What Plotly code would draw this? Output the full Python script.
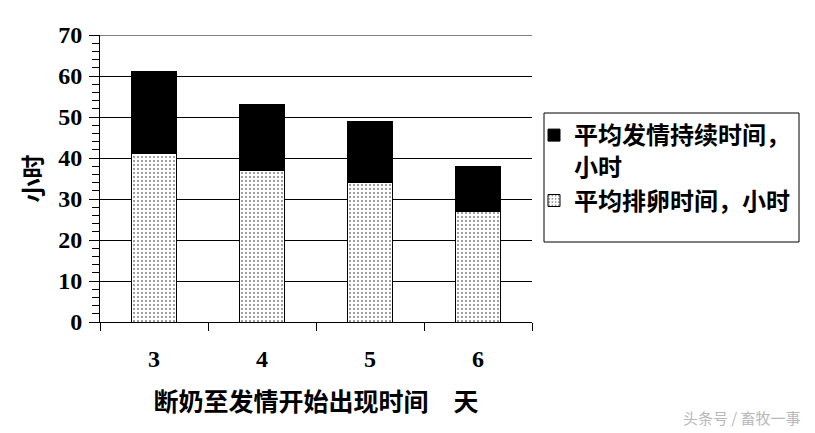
import plotly.graph_objects as go

categories = ["3", "4", "5", "6"]
ovulation_hours = [41, 37, 34, 27]        # 平均排卵时间，小时 (dotted, bottom)
estrus_extra_hours = [20, 16, 15, 11]     # 平均发情持续时间，小时 (black, stacked on top)

name_estrus = "平均发情持续时间，<br>小时"
name_ovul = "平均排卵时间，小时"

FONT = "Liberation Serif, Noto Sans CJK SC, serif"
CJK = "Noto Sans CJK SC, sans-serif"

# the page body has an 8px margin, so the figure sits at (8, 8)
OFF = 8
W, H = 815 - OFF, 433 - OFF

fig = go.Figure()
fig.add_trace(go.Bar(
    x=categories, y=ovulation_hours, name=name_ovul,
    legendgroup="b", legendrank=2,
    marker=dict(color="white", line=dict(color="black", width=1),
                pattern=dict(shape=".", fgcolor="black", bgcolor="white",
                             size=4, solidity=0.2, fillmode="overlay")),
    width=0.42,
))
fig.add_trace(go.Bar(
    x=categories, y=estrus_extra_hours, name=name_estrus,
    legendgroup="a", legendrank=1,
    marker=dict(color="black", line=dict(color="black", width=1)),
    width=0.42,
))

# plot area in screenshot pixels: x 100..532, y 35..322
L = 100 - OFF
T = 35 - OFF
R = W - (532 - OFF)
B = H - (322 - OFF)
pw = W - L - R
ph = H - T - B

def px_x(x):
    return (x - OFF - L) / pw

def px_y(y):
    return (H - B - (y - OFF)) / ph

fig.update_layout(
    width=W, height=H,
    margin=dict(l=L, r=R, t=T, b=B, pad=0, autoexpand=False),
    barmode="stack",
    paper_bgcolor="white", plot_bgcolor="white",
    font=dict(family=FONT, size=22, color="black", weight="bold"),
    showlegend=True,
    legend=dict(
        x=px_x(534), y=px_y(113), xanchor="left", yanchor="top",
        bgcolor="rgba(0,0,0,0)", borderwidth=0,
        traceorder="grouped", valign="top",
        font=dict(family=CJK, size=24, color="black", weight="bold"),
        tracegroupgap=0,
    ),
    xaxis=dict(
        type="category",
        showline=True, linecolor="black", linewidth=1,
        ticks="outside", tickson="boundaries", ticklen=8, tickcolor="black", tickwidth=1,
        ticklabelstandoff=15,
        showgrid=False,
        tickfont=dict(family=FONT, size=24, weight="bold"),
        title=dict(text="断奶至发情开始出现时间\u3000天", standoff=22,
                   font=dict(family=CJK, size=25, weight="bold")),
    ),
    yaxis=dict(
        range=[0, 70], dtick=10, tick0=0,
        showline=True, linecolor="black", linewidth=1,
        ticks="outside", ticklen=10, tickcolor="black", tickwidth=1,
        minor=dict(dtick=2, ticks="outside", ticklen=7, tickcolor="black", tickwidth=1, showgrid=False),
        showgrid=True, gridcolor="black", gridwidth=1,
        zeroline=False,
        ticklabelstandoff=2,
        tickfont=dict(family=FONT, size=24, weight="bold"),
        title=dict(text="小时", standoff=8,
                   font=dict(family=CJK, size=24, weight="bold")),
    ),
    shapes=[
        dict(type="line", xref="paper", yref="y", x0=0, x1=1, y0=70, y1=70,
             line=dict(color="black", width=1)),
        dict(type="rect", xref="paper", yref="paper",
             x0=px_x(544), x1=px_x(799), y0=px_y(242), y1=px_y(113),
             line=dict(color="black", width=1), fillcolor="rgba(0,0,0,0)", layer="above"),
    ],
    annotations=[
        dict(text="头条号 / 畜牧一事", xref="paper", yref="paper",
             x=px_x(742), y=px_y(417), xanchor="center", yanchor="middle",
             showarrow=False,
             font=dict(family=CJK, size=15, color="#b8b8b8", weight="normal")),
    ],
)

fig.write_html("out.html")
